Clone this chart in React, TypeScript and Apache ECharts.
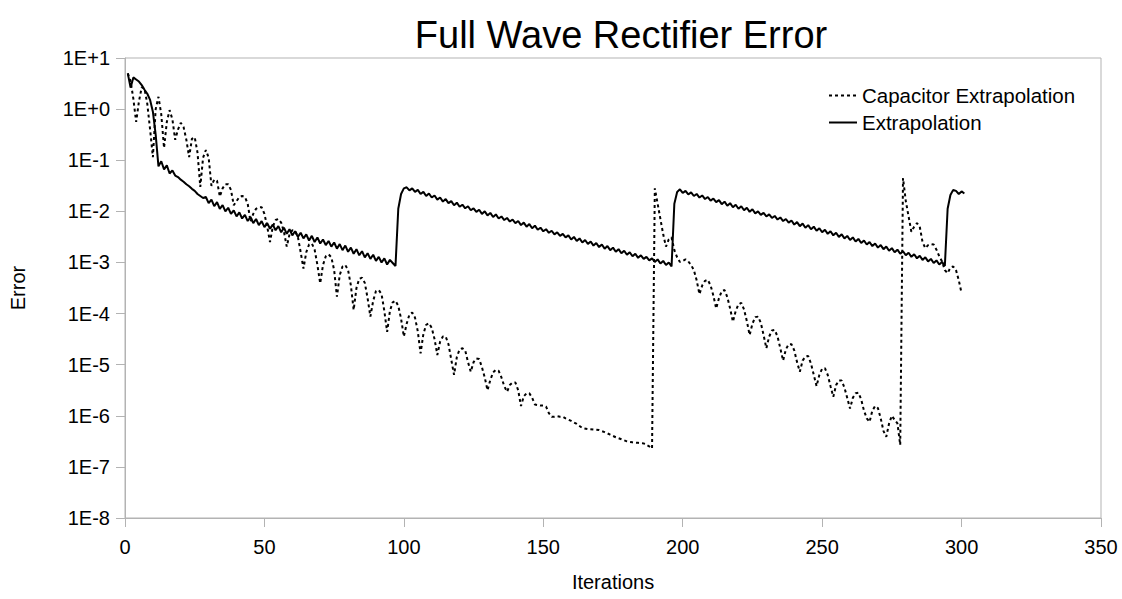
import React, { useEffect, useRef } from "react";
import * as echarts from "echarts";

// x axis ticks (iterations)
const xMin = 0;
const xMax = 350;
const xInterval = 50;
// y axis: log10 range of the error axis
const yMinExp = -8;
const yMaxExp = 1;

const titleText = "Full Wave Rectifier Error";
const xName = "Iterations";
const yName = "Error";
const seriesNames = ["Capacitor Extrapolation", "Extrapolation"];

// Capacitor Extrapolation: [iteration, log10(error)]
const capacitorExtrapolation: [number, number][] = [
  [1, 0.7], [2, 0.55], [3, 0.2], [4, -0.25], [5, 0.15], [6, 0.43], [7, 0.4], [8, 0.1], [9, -0.4], [10, -0.94],
  [11, 0.0], [12, 0.24], [13, -0.1], [14, -0.76], [15, -0.25], [16, -0.02], [17, -0.2], [18, -0.6], [19, -0.4], [20, -0.27],
  [21, -0.35], [22, -0.6], [23, -0.94], [24, -0.58], [25, -0.55], [26, -0.85], [27, -1.52], [28, -0.95], [29, -0.8], [30, -0.95],
  [31, -1.5], [32, -1.38], [33, -1.4], [34, -1.71], [35, -1.55], [36, -1.47], [37, -1.47], [38, -1.58], [39, -1.88], [40, -1.8],
  [41, -1.72], [42, -1.7], [43, -1.72], [44, -1.85], [45, -2.2], [46, -2.05], [47, -1.95], [48, -1.92], [49, -1.92], [50, -2.05],
  [51, -2.3], [52, -2.6], [53, -2.3], [54, -2.17], [55, -2.15], [56, -2.22], [57, -2.4], [58, -2.69], [59, -2.45], [60, -2.37],
  [61, -2.38], [62, -2.5], [63, -2.8], [64, -3.12], [65, -2.8], [66, -2.65], [67, -2.63], [68, -2.75], [69, -3.05], [70, -3.41],
  [71, -3.05], [72, -2.88], [73, -2.84], [74, -2.9], [75, -3.15], [76, -3.67], [77, -3.25], [78, -3.08], [79, -3.05], [80, -3.15],
  [81, -3.45], [82, -3.93], [83, -3.5], [84, -3.32], [85, -3.3], [86, -3.4], [87, -3.7], [88, -4.06], [89, -3.75], [90, -3.56],
  [91, -3.54], [92, -3.62], [93, -3.95], [94, -4.36], [95, -3.95], [96, -3.78], [97, -3.75], [98, -3.85], [99, -4.1], [100, -4.45],
  [101, -4.2], [102, -4.02], [103, -3.98], [104, -4.08], [105, -4.35], [106, -4.78], [107, -4.4], [108, -4.22], [109, -4.19], [110, -4.28],
  [111, -4.5], [112, -4.81], [113, -4.55], [114, -4.45], [115, -4.45], [116, -4.6], [117, -4.9], [118, -5.2], [119, -4.85], [120, -4.7],
  [121, -4.68], [122, -4.72], [123, -4.95], [124, -5.14], [125, -4.95], [126, -4.88], [127, -4.89], [128, -5.05], [129, -5.25], [130, -5.5],
  [131, -5.3], [132, -5.15], [133, -5.1], [134, -5.12], [135, -5.25], [136, -5.42], [137, -5.53], [138, -5.4], [139, -5.35], [140, -5.35],
  [141, -5.5], [142, -5.81], [143, -5.62], [144, -5.56], [145, -5.56], [146, -5.65], [147, -5.78], [148, -5.79], [149, -5.8], [150, -5.8],
  [151, -5.82], [152, -5.95], [153, -6.02], [154, -6.02], [155, -6.01], [156, -6.02], [157, -6.02], [158, -6.05], [160, -6.1], [162, -6.16],
  [164, -6.24], [166, -6.26], [168, -6.27], [170, -6.28], [172, -6.32], [174, -6.37], [176, -6.42], [178, -6.46], [180, -6.5], [182, -6.52],
  [184, -6.53], [186, -6.54], [188, -6.6], [189, -6.64], [190, -1.55], [191, -1.85], [192, -2.15], [193, -2.45], [194, -2.69], [195, -2.55],
  [196, -2.51], [197, -2.76], [198, -2.9], [199, -2.99], [200, -2.97], [201, -2.94], [202, -2.98], [203, -3.05], [204, -3.15], [205, -3.35],
  [206, -3.62], [207, -3.45], [208, -3.36], [209, -3.34], [210, -3.45], [211, -3.65], [212, -3.9], [213, -3.7], [214, -3.56], [215, -3.54],
  [216, -3.68], [217, -3.9], [218, -4.16], [219, -3.95], [220, -3.82], [221, -3.79], [222, -3.92], [223, -4.15], [224, -4.42], [225, -4.2],
  [226, -4.07], [227, -4.06], [228, -4.18], [229, -4.42], [230, -4.68], [231, -4.45], [232, -4.33], [233, -4.32], [234, -4.45], [235, -4.68],
  [236, -4.92], [237, -4.7], [238, -4.6], [239, -4.6], [240, -4.72], [241, -4.95], [242, -5.14], [243, -4.92], [244, -4.84], [245, -4.83],
  [246, -4.98], [247, -5.2], [248, -5.42], [249, -5.2], [250, -5.08], [251, -5.07], [252, -5.2], [253, -5.42], [254, -5.63], [255, -5.4],
  [256, -5.31], [257, -5.31], [258, -5.45], [259, -5.65], [260, -5.86], [261, -5.65], [262, -5.56], [263, -5.55], [264, -5.68], [265, -5.9],
  [266, -6.05], [267, -6.12], [268, -5.9], [269, -5.81], [270, -5.85], [271, -6.05], [272, -6.3], [273, -6.41], [274, -6.15], [275, -6.0],
  [276, -6.08], [277, -6.15], [278, -6.57], [279, -1.35], [280, -1.8], [281, -2.1], [282, -2.4], [283, -2.3], [284, -2.23], [285, -2.3],
  [286, -2.6], [287, -2.72], [288, -2.66], [289, -2.64], [290, -2.65], [291, -2.75], [292, -2.88], [293, -2.98], [294, -3.15], [295, -3.21],
  [296, -3.1], [297, -3.08], [298, -3.15], [299, -3.35], [300, -3.6],
];

// Extrapolation: log10(error) at iterations 1..301
const extrapolationStart = 1;
const extrapolation: number[] = [
  // 1-10
  0.7, 0.42, 0.62, 0.58, 0.54, 0.47, 0.38, 0.3, 0.18, -0.05,
  // 11-20
  -0.5, -1.12, -1.02, -1.18, -1.1, -1.26, -1.2, -1.3, -1.33, -1.38,
  // 21-30
  -1.42, -1.47, -1.51, -1.56, -1.6, -1.66, -1.7, -1.74, -1.72, -1.84,
  // 31-40
  -1.77, -1.9, -1.82, -1.95, -1.88, -2.0, -1.93, -2.05, -1.98, -2.1,
  // 41-50
  -2.02, -2.14, -2.07, -2.19, -2.11, -2.23, -2.15, -2.27, -2.19, -2.31,
  // 51-60
  -2.23, -2.34, -2.26, -2.37, -2.29, -2.41, -2.32, -2.44, -2.35, -2.47,
  // 61-70
  -2.39, -2.5, -2.42, -2.53, -2.45, -2.57, -2.48, -2.6, -2.51, -2.63,
  // 71-80
  -2.55, -2.66, -2.58, -2.69, -2.61, -2.73, -2.64, -2.76, -2.67, -2.79,
  // 81-90
  -2.71, -2.83, -2.74, -2.86, -2.78, -2.9, -2.82, -2.93, -2.85, -2.97,
  // 91-100
  -2.89, -3.0, -2.92, -3.04, -2.95, -3.01, -3.07, -1.95, -1.66, -1.55,
  // 101-110
  -1.53, -1.59, -1.55, -1.62, -1.58, -1.66, -1.62, -1.7, -1.65, -1.73,
  // 111-120
  -1.69, -1.77, -1.73, -1.81, -1.76, -1.84, -1.8, -1.88, -1.83, -1.91,
  // 121-130
  -1.87, -1.94, -1.9, -1.98, -1.94, -2.01, -1.97, -2.05, -2.0, -2.08,
  // 131-140
  -2.03, -2.11, -2.06, -2.14, -2.1, -2.17, -2.13, -2.2, -2.16, -2.23,
  // 141-150
  -2.19, -2.27, -2.22, -2.3, -2.25, -2.33, -2.28, -2.36, -2.32, -2.39,
  // 151-160
  -2.35, -2.42, -2.38, -2.45, -2.41, -2.48, -2.44, -2.51, -2.47, -2.55,
  // 161-170
  -2.5, -2.58, -2.53, -2.61, -2.56, -2.64, -2.59, -2.67, -2.62, -2.7,
  // 171-180
  -2.65, -2.73, -2.68, -2.76, -2.71, -2.79, -2.74, -2.82, -2.77, -2.85,
  // 181-190
  -2.8, -2.88, -2.83, -2.91, -2.86, -2.93, -2.89, -2.96, -2.92, -2.99,
  // 191-200
  -2.94, -3.02, -2.97, -3.05, -3.0, -3.08, -1.85, -1.62, -1.57, -1.64,
  // 201-210
  -1.6, -1.67, -1.63, -1.7, -1.66, -1.73, -1.69, -1.76, -1.72, -1.79,
  // 211-220
  -1.75, -1.82, -1.78, -1.86, -1.81, -1.89, -1.84, -1.92, -1.87, -1.95,
  // 221-230
  -1.9, -1.98, -1.93, -2.01, -1.96, -2.04, -2.0, -2.07, -2.03, -2.1,
  // 231-240
  -2.06, -2.13, -2.09, -2.16, -2.12, -2.19, -2.15, -2.22, -2.18, -2.26,
  // 241-250
  -2.21, -2.29, -2.24, -2.32, -2.27, -2.35, -2.3, -2.38, -2.33, -2.41,
  // 251-260
  -2.36, -2.44, -2.39, -2.47, -2.42, -2.5, -2.45, -2.53, -2.48, -2.56,
  // 261-270
  -2.51, -2.59, -2.54, -2.62, -2.57, -2.65, -2.6, -2.68, -2.63, -2.71,
  // 271-280
  -2.66, -2.74, -2.69, -2.77, -2.72, -2.8, -2.75, -2.83, -2.78, -2.86,
  // 281-290
  -2.81, -2.89, -2.84, -2.92, -2.87, -2.95, -2.9, -2.98, -2.93, -3.01,
  // 291-300
  -2.96, -3.04, -2.99, -3.07, -1.95, -1.68, -1.58, -1.6, -1.66, -1.61,
  // 301
  -1.65,
];

const FONT = "'Liberation Sans', Arial, sans-serif";
const GRAY = "#b3b3b3";

function expLabel(v: number): string {
  const e = Math.round(Math.log10(v));
  return "1E" + (e >= 0 ? "+" : "-") + Math.abs(e);
}

export default function App() {
  const ref = useRef<HTMLDivElement>(null);

  useEffect(() => {
    if (!ref.current) return;
    const chart = echarts.init(ref.current, null, { renderer: "svg" });
    chart.setOption({
      animation: false,
      backgroundColor: "#ffffff",
      title: {
        text: titleText,
        left: 616,
        top: 11,
        textAlign: "center",
        textStyle: { fontFamily: FONT, fontSize: 38, fontWeight: "normal", color: "#000" },
      },
      legend: {
        orient: "vertical",
        left: 823,
        top: 80,
        itemWidth: 28,
        itemHeight: 14,
        itemGap: 6,
        itemStyle: { opacity: 0 },
        textStyle: { fontFamily: FONT, fontSize: 20.5, color: "#000" },
        data: seriesNames,
      },
      grid: {
        left: 125,
        right: 21,
        top: 58,
        bottom: 81,
        show: true,
        borderColor: GRAY,
        borderWidth: 1,
        containLabel: false,
      },
      xAxis: {
        type: "value",
        min: xMin,
        max: xMax,
        interval: xInterval,
        name: xName,
        nameLocation: "middle",
        nameGap: 54,
        nameTextStyle: { fontFamily: FONT, fontSize: 20, color: "#000" },
        axisLine: { show: true, lineStyle: { color: GRAY, width: 1 } },
        axisTick: { show: true, length: 9, lineStyle: { color: GRAY } },
        axisLabel: { fontFamily: FONT, fontSize: 20, color: "#000", margin: 19 },
        splitLine: { show: false },
      },
      yAxis: {
        type: "log",
        logBase: 10,
        min: Math.pow(10, yMinExp),
        max: Math.pow(10, yMaxExp),
        splitNumber: yMaxExp - yMinExp,
        name: yName,
        nameLocation: "middle",
        nameGap: 97,
        nameTextStyle: { fontFamily: FONT, fontSize: 20, color: "#000" },
        axisLine: { show: true, lineStyle: { color: GRAY, width: 1 } },
        axisTick: { show: true, length: 9, lineStyle: { color: GRAY } },
        axisLabel: { fontFamily: FONT, fontSize: 20, color: "#000", margin: 15, formatter: expLabel },
        splitLine: { show: false },
        minorTick: { show: false },
      },
      series: [
        {
          name: seriesNames[0],
          type: "line",
          symbol: "none",
          data: capacitorExtrapolation.map(([i, e]) => [i, Math.pow(10, e)]),
          lineStyle: { color: "#000", width: 2, type: [3, 3] },
          itemStyle: { color: "#000" },
          z: 2,
        },
        {
          name: seriesNames[1],
          type: "line",
          symbol: "none",
          data: extrapolation.map((e, k) => [extrapolationStart + k, Math.pow(10, e)]),
          lineStyle: { color: "#000", width: 2, type: "solid" },
          itemStyle: { color: "#000" },
          z: 3,
        },
      ],
    });
    return () => chart.dispose();
  }, []);

  return (
    <div
      ref={ref}
      style={{ position: "absolute", left: 0, top: 0, width: 1122, height: 599 }}
    />
  );
}
